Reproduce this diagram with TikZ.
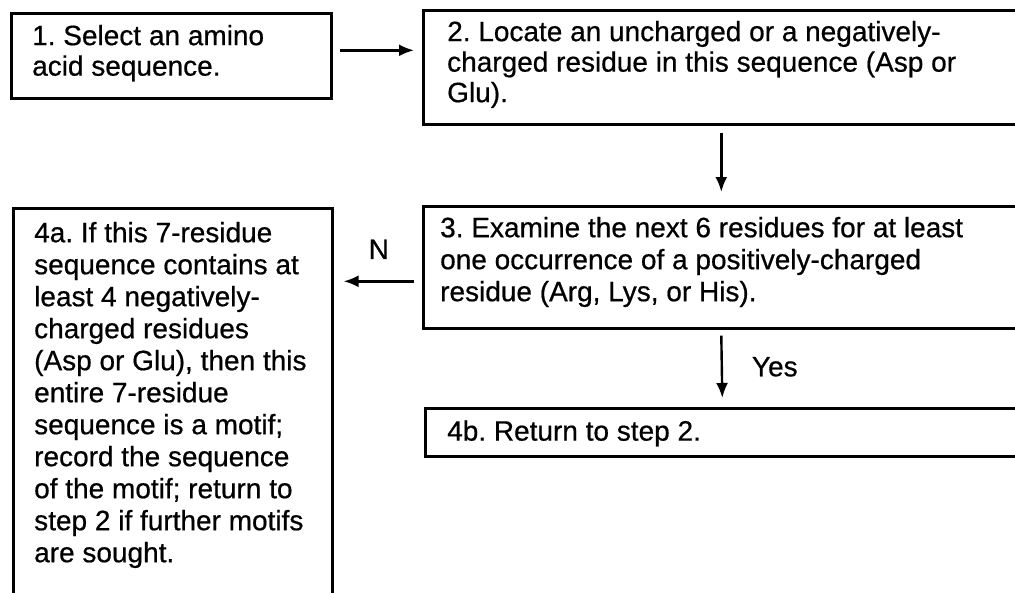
\documentclass[tikz,border=0pt]{standalone}
\usepackage{fontspec}
\setmainfont{Liberation Sans}[FakeBold=0.6]
\usetikzlibrary{arrows.meta,calc}
\begin{document}
\frenchspacing
\begin{tikzpicture}[x=1pt,y=-1pt,
  box/.style={draw, line width=2.6pt, rectangle, inner sep=0pt, anchor=north west},
  txtA/.style={anchor=north west, inner sep=0pt, align=left, font=\fontsize{28}{30.5}\selectfont},
  txtB/.style={anchor=north west, inner sep=0pt, align=left, font=\fontsize{28}{32}\selectfont},
  lbl/.style={inner sep=0pt, font=\fontsize{28}{32}\selectfont},
  arr/.style={line width=2.4pt, -{Latex[length=15pt,width=12pt]}}]
\useasboundingbox (0,0) rectangle (1015,592);
\clip (0,0) rectangle (1015,592);
% boxes
\node[box, minimum width=320pt, minimum height=85pt] (b1) at (10,12) {};
\node[box, minimum width=596pt, minimum height=114pt] (b2) at (422,9) {};
\node[box, minimum width=596pt, minimum height=122pt] (b3) at (422,205) {};
\node[box, minimum width=319pt, minimum height=400pt] (b4a) at (12,207) {};
\node[box, minimum width=594pt, minimum height=48pt] (b4b) at (424,407) {};
% texts
\node[txtA] (t1) at (32,23.6) {\strut 1. Select an amino\\acid sequence.};
\node[txtA] (t2) at (447,19.6) {\strut 2. Locate an uncharged or a negatively-\\charged residue in this sequence (Asp or\\Glu).};
\node[txtB] (t3) at (440,214.6) {\strut 3. Examine the next 6 residues for at least\\one occurrence of a positively-charged\\residue (Arg, Lys, or His).};
\node[txtB] (t4a) at (34,219.6) {\strut 4a. If this 7-residue\\sequence contains at\\least 4 negatively-\\charged residues\\(Asp or Glu), then this\\entire 7-residue\\sequence is a motif;\\record the sequence\\of the motif; return to\\step 2 if further motifs\\are sought.};
\node[txtB] (t4b) at (447,418) {\strut 4b. Return to step 2.};
% connectors
\draw[arr] ($(b1.east)+(7,-5.5)$) -- ($(b1.east -| b2.west)+(-8,-5.5)$);
\draw[arr] ([yshift=-7pt]b2.south) -- ([yshift=13pt]b3.north);
\draw[arr] ($(b3.west)+(-8,14)$) -- node[lbl, midway, yshift=32pt] {N} ($(b3.west -| b4a.east)+(10,14)$);
\draw[arr] ([yshift=-6pt]b3.south) -- node[lbl, midway, xshift=53pt] {Yes} ([yshift=9pt]b4b.north);
\end{tikzpicture}
\end{document}
